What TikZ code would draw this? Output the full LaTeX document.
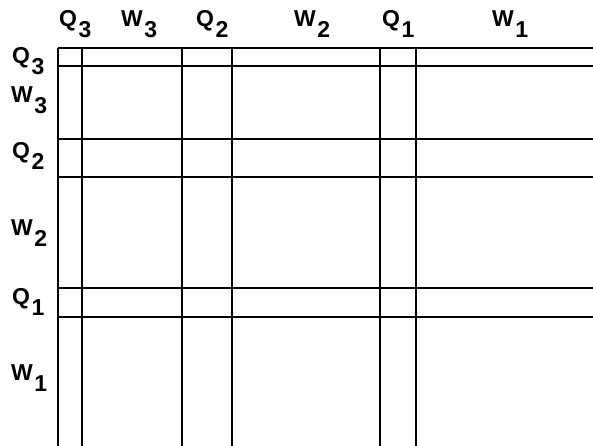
\documentclass[tikz,border=0pt]{standalone}
\usepackage{fontspec}
\setmainfont{Liberation Sans}
\newcommand{\qlab}[2]{#1\kern1.5pt\raisebox{-11pt}{#2}}
\begin{document}
\begin{tikzpicture}[x=1pt,y=-1pt,
  gridline/.style={line width=2pt,black},
  lab/.style={anchor=base west,inner sep=0pt,font=\fontsize{23}{23}\selectfont\bfseries}]
\useasboundingbox (0,0) rectangle (593,446);
% vertical lines
\foreach \x in {58,82,182,232,380,416}
  \draw[gridline] (\x,48) -- (\x,446);
% horizontal lines
\foreach \y in {48,66,139,177,288,317}
  \draw[gridline] (58,\y) -- (593,\y);
% column labels
\node[lab] (cq3) at (59,26.5) {\qlab{Q}{3}};
\node[lab] (cw3) at (121,26.5) {\qlab{W}{3}};
\node[lab] (cq2) at (196,26.5) {\qlab{Q}{2}};
\node[lab] (cw2) at (294,26.5) {\qlab{W}{2}};
\node[lab] (cq1) at (382,26.5) {\qlab{Q}{1}};
\node[lab] (cw1) at (492,26.5) {\qlab{W}{1}};
% row labels
\node[lab] (rq3) at (12,64) {\qlab{Q}{3}};
\node[lab] (rw3) at (11,103) {\qlab{W}{3}};
\node[lab] (rq2) at (12,159) {\qlab{Q}{2}};
\node[lab] (rw2) at (11,235) {\qlab{W}{2}};
\node[lab] (rq1) at (12,304) {\qlab{Q}{1}};
\node[lab] (rw1) at (11,380) {\qlab{W}{1}};
\end{tikzpicture}
\end{document}
